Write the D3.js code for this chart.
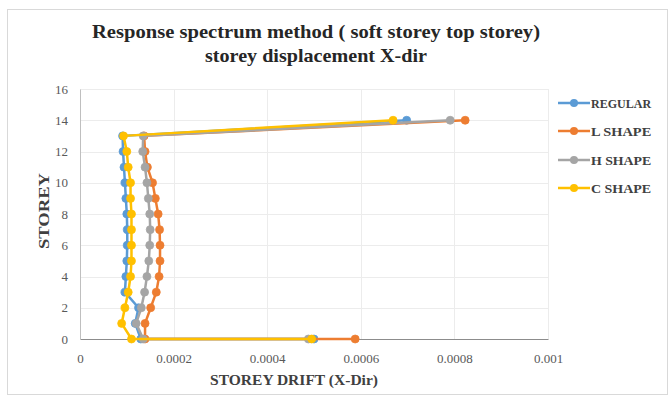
<!DOCTYPE html>
<html>
<head>
<meta charset="utf-8">
<script src="https://cdn.jsdelivr.net/npm/d3@7/dist/d3.min.js"></script>
<style>
  html, body { margin: 0; padding: 0; background: #fff; }
  svg { display: block; }
  .tick text { font-family: 'Liberation Serif', 'Times New Roman', serif; font-size: 13px; fill: #595959; }
</style>
</head>
<body>
<svg id="chart" width="672" height="398"></svg>
<script>
// Storey levels: the base (0) carries two readings, then storeys 1..13 and the roof (14)
const storeys = [0, 0, 1, 2, 3, 4, 5, 6, 7, 8, 9, 10, 11, 12, 13, 14];

const regular = [0.000500, 0.000130, 0.000118, 0.000125, 0.000096, 0.000098, 0.000100, 0.000101, 0.000101, 0.000100, 0.000098, 0.000096, 0.000094, 0.000092, 0.000091, 0.000698];
const lShape  = [0.000588, 0.000139, 0.000139, 0.000151, 0.000163, 0.000169, 0.000171, 0.000171, 0.000170, 0.000167, 0.000161, 0.000155, 0.000144, 0.000139, 0.000137, 0.000823];
const hShape  = [0.000488, 0.000135, 0.000120, 0.000131, 0.000138, 0.000143, 0.000147, 0.000149, 0.000150, 0.000149, 0.000146, 0.000143, 0.000139, 0.000134, 0.000135, 0.000791];
const cShape  = [0.000495, 0.000110, 0.000089, 0.000096, 0.000103, 0.000108, 0.000110, 0.000110, 0.000110, 0.000110, 0.000108, 0.000108, 0.000103, 0.000100, 0.000093, 0.000669];

const seriesNames  = ["REGULAR", "L SHAPE", "H SHAPE", "C SHAPE"];
const seriesColors = ["#5B9BD5", "#ED7D31", "#A5A5A5", "#FFC000"];
const seriesValues = [regular, lShape, hShape, cShape];

const xTicks = [0, 0.0002, 0.0004, 0.0006, 0.0008, 0.001];
const xTickLabels = ["0", "0.0002", "0.0004", "0.0006", "0.0008", "0.001"];
const yTicks = [0, 2, 4, 6, 8, 10, 12, 14, 16];

const titleLines = ["Response spectrum method ( soft storey top  storey)", "storey displacement X-dir"];
const xTitle = "STOREY DRIFT (X-Dir)";
const yTitle = "STOREY";

const svg = d3.select("#chart");
const serif = "'Liberation Serif', 'Times New Roman', serif";

// Outer chart frame
svg.append("rect")
  .attr("x", 7.5).attr("y", 9.5).attr("width", 660).attr("height", 385)
  .attr("fill", "#fff").attr("stroke", "#d9d9d9").attr("stroke-width", 1);

const plot = { left: 80, right: 548, top: 89, bottom: 339 };
const x = d3.scaleLinear().domain([0, 0.001]).range([plot.left, plot.right]);
const y = d3.scaleLinear().domain([0, 16]).range([plot.bottom, plot.top]);

// Gridlines
svg.append("g")
  .selectAll("line").data(yTicks.filter(d => d > 0)).join("line")
  .attr("x1", plot.left).attr("x2", plot.right)
  .attr("y1", d => Math.round(y(d)) + 0.5).attr("y2", d => Math.round(y(d)) + 0.5)
  .attr("stroke", "#ececec").attr("stroke-width", 1);
svg.append("g")
  .selectAll("line").data(xTicks.filter(d => d > 0)).join("line")
  .attr("y1", plot.top).attr("y2", plot.bottom)
  .attr("x1", d => Math.round(x(d)) + 0.5).attr("x2", d => Math.round(x(d)) + 0.5)
  .attr("stroke", "#ececec").attr("stroke-width", 1);

// Axes
const xAxis = d3.axisBottom(x).tickValues(xTicks)
  .tickFormat((d, i) => xTickLabels[i]).tickSize(0).tickPadding(15);
const gx = svg.append("g").attr("transform", `translate(0,${plot.bottom})`).call(xAxis);
gx.select(".domain").attr("stroke", "#8c8c8c").attr("stroke-width", 1.2);

const yAxis = d3.axisLeft(y).tickValues(yTicks).tickSize(0).tickPadding(12);
const gy = svg.append("g").attr("transform", `translate(${plot.left},0)`).call(yAxis);
gy.select(".domain").attr("stroke", "#bfbfbf").attr("stroke-width", 1);

// Series lines and markers
const line = d3.line().x(d => x(d[0])).y(d => y(d[1]));
seriesValues.forEach((vals, si) => {
  const pts = vals.map((v, i) => [v, storeys[i]]);
  const g = svg.append("g");
  g.append("path").datum(pts)
    .attr("d", line).attr("fill", "none")
    .attr("stroke", seriesColors[si]).attr("stroke-width", 2.5)
    .attr("stroke-linejoin", "round");
  g.selectAll("circle").data(pts).join("circle")
    .attr("cx", d => x(d[0])).attr("cy", d => y(d[1])).attr("r", 4)
    .attr("fill", seriesColors[si]).attr("stroke", seriesColors[si]).attr("stroke-width", 0.75);
});

// Title
svg.append("text").attr("x", 316).attr("y", 38)
  .attr("text-anchor", "middle").attr("font-family", serif).attr("font-weight", "bold")
  .attr("font-size", 19).attr("fill", "#262626")
  .attr("textLength", 448).attr("lengthAdjust", "spacingAndGlyphs")
  .text(titleLines[0]);
svg.append("text").attr("x", 316).attr("y", 62)
  .attr("text-anchor", "middle").attr("font-family", serif).attr("font-weight", "bold")
  .attr("font-size", 19).attr("fill", "#262626")
  .attr("textLength", 222).attr("lengthAdjust", "spacingAndGlyphs")
  .text(titleLines[1]);

// Axis titles
svg.append("text").attr("x", 294).attr("y", 385)
  .attr("text-anchor", "middle").attr("font-family", serif).attr("font-weight", "bold")
  .attr("font-size", 15).attr("fill", "#404040")
  .attr("textLength", 168).attr("lengthAdjust", "spacingAndGlyphs")
  .text(xTitle);
svg.append("text")
  .attr("transform", "translate(49,211) rotate(-90)")
  .attr("text-anchor", "middle").attr("font-family", serif).attr("font-weight", "bold")
  .attr("font-size", 15).attr("fill", "#404040")
  .attr("textLength", 76).attr("lengthAdjust", "spacingAndGlyphs")
  .text(yTitle);

// Legend
const legendRows = [103, 131, 160, 188];
const lg = svg.append("g");
seriesNames.forEach((name, i) => {
  const ry = legendRows[i];
  lg.append("line").attr("x1", 558).attr("x2", 590).attr("y1", ry).attr("y2", ry)
    .attr("stroke", seriesColors[i]).attr("stroke-width", 2.5);
  lg.append("circle").attr("cx", 574).attr("cy", ry).attr("r", 4).attr("fill", seriesColors[i]);
  lg.append("text").attr("x", 591).attr("y", ry + 4.5)
    .attr("font-family", serif).attr("font-weight", "bold").attr("font-size", 13)
    .attr("fill", "#404040").attr("textLength", name.length * 8.6).attr("lengthAdjust", "spacingAndGlyphs")
    .text(name);
});
</script>
</body>
</html>
